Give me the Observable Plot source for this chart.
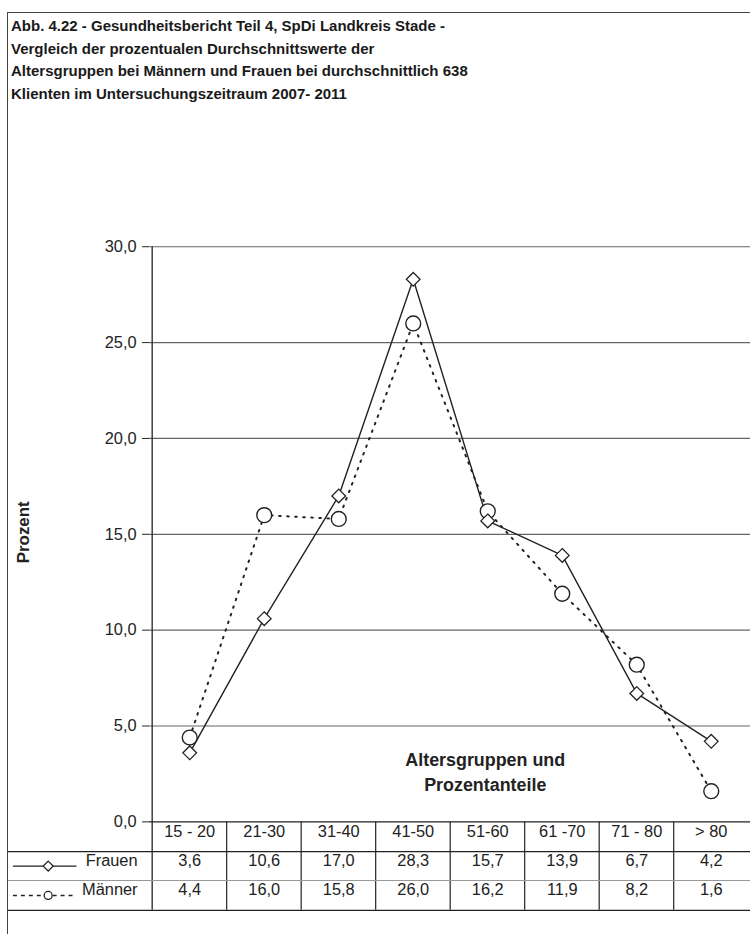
<!DOCTYPE html>
<html>
<head>
<meta charset="utf-8">
<script src="https://cdn.jsdelivr.net/npm/d3@7"></script>
<script src="https://cdn.jsdelivr.net/npm/@observablehq/plot@0.6"></script>
<style>
  html, body { margin: 0; padding: 0; background: #fff; overflow: hidden; }
  #wrap { position: relative; width: 750px; height: 934px; overflow: hidden; }
  #frame { position: absolute; left: 7px; top: 12px; width: 800px; height: 1000px;
           border-left: 1.5px solid #444; border-top: 1.5px solid #444; }
  #title { position: absolute; left: 11px; top: 15px; font-family: "Liberation Sans", Arial, sans-serif;
           font-weight: bold; font-size: 15px; line-height: 22.7px; color: #1a1a1a; }
  #chart { position: absolute; left: 0; top: 130px; }
</style>
</head>
<body>
<div id="wrap">
  <div id="frame"></div>
  <div id="title"></div>
  <div id="chart"></div>
</div>
<script>
const titleLines = [
  "Abb. 4.22 - Gesundheitsbericht Teil 4, SpDi Landkreis Stade -",
  "Vergleich der prozentualen Durchschnittswerte der",
  "Altersgruppen bei Männern und Frauen bei durchschnittlich 638",
  "Klienten im Untersuchungszeitraum 2007- 2011"
];
const categories = ["15 - 20", "21-30", "31-40", "41-50", "51-60", "61 -70", "71 - 80", "> 80"];
const frauen = [3.6, 10.6, 17.0, 28.3, 15.7, 13.9, 6.7, 4.2];
const maenner = [4.4, 16.0, 15.8, 26.0, 16.2, 11.9, 8.2, 1.6];
const yTicks = [0, 5, 10, 15, 20, 25, 30];
const seriesNames = ["Frauen", "Männer"];
const yLabel = "Prozent";
const xLabel = "Altersgruppen und\nProzentanteile";

document.getElementById("title").innerHTML = titleLines.join("<br>");

const rows = categories.map((c, i) => ({cat: c, frauen: frauen[i], maenner: maenner[i]}));
const fmt = v => v.toFixed(1).replace(".", ",");

const W = 755, H = 804, ML = 150, MR = 0, MT = 117, MB = 108;
const frameW = W - ML - MR, frameH = H - MT - MB;
const bw = frameW / categories.length;
const ink = "#222";

const chart = Plot.plot({
  width: W, height: H,
  marginLeft: ML, marginRight: MR, marginTop: MT, marginBottom: MB,
  style: {fontFamily: "'Liberation Sans', Arial, sans-serif", fontSize: "16.5px", color: ink, background: "transparent", overflow: "visible"},
  x: {type: "band", domain: categories, padding: 0, axis: null},
  y: {domain: [0, 30], ticks: yTicks, tickFormat: fmt, tickSize: 7, tickPadding: 6, label: null},
  marks: [
    // grid
    Plot.ruleY(yTicks.filter(d => d > 0), {stroke: "#666", strokeWidth: 1.2}),
    Plot.ruleY([0], {stroke: ink, strokeWidth: 1.3}),
    // y axis line extending through table
    Plot.ruleX([categories[0]], {dx: -bw / 2, stroke: ink, strokeWidth: 1.3, insetBottom: -89}),
    // table vertical lines
    Plot.ruleX(categories.slice(1), {dx: -bw / 2, stroke: ink, strokeWidth: 1.2, insetTop: frameH, insetBottom: -89}),
    // table horizontal lines
    Plot.ruleY([0], {dy: 30, stroke: ink, strokeWidth: 1.2, insetLeft: -142}),
    Plot.ruleY([0], {dy: 59, stroke: "#999", strokeWidth: 1.2, insetLeft: -142}),
    Plot.ruleY([0], {dy: 89, stroke: ink, strokeWidth: 1.3, insetLeft: -142}),
    // table text
    Plot.text(rows, {x: "cat", text: "cat", frameAnchor: "bottom", dy: 15, fill: ink}),
    Plot.text(rows, {x: "cat", text: d => fmt(d.frauen), frameAnchor: "bottom", dy: 44.5, fill: ink}),
    Plot.text(rows, {x: "cat", text: d => fmt(d.maenner), frameAnchor: "bottom", dy: 74, fill: ink}),
    // legend cells
    Plot.ruleY([0], {dy: 44.5, stroke: ink, strokeWidth: 1.3, insetLeft: -137, insetRight: W - MR - 77}),
    Plot.ruleY([0], {dy: 74, stroke: ink, strokeWidth: 1.5, strokeDasharray: "4,4", insetLeft: -137, insetRight: W - MR - 77}),
    Plot.dot([seriesNames[0]], {frameAnchor: "bottom-left", dx: -102, dy: 44.5, symbol: "diamond2", r: 4.5, stroke: ink, strokeWidth: 1.3, fill: "white"}),
    Plot.dot([seriesNames[1]], {frameAnchor: "bottom-left", dx: -102, dy: 74, symbol: "circle", r: 4, stroke: ink, strokeWidth: 1.3, fill: "white"}),
    Plot.text([seriesNames[0]], {text: d => d, frameAnchor: "bottom-left", dx: -12, dy: 44.5, textAnchor: "end", fill: ink}),
    Plot.text([seriesNames[1]], {text: d => d, frameAnchor: "bottom-left", dx: -12, dy: 74, textAnchor: "end", fill: ink}),
    // series lines
    Plot.line(rows, {x: "cat", y: "maenner", stroke: ink, strokeWidth: 2, strokeDasharray: "1.6,6.5"}),
    Plot.line(rows, {x: "cat", y: "frauen", stroke: ink, strokeWidth: 1.4}),
    Plot.dot(rows, {x: "cat", y: "maenner", symbol: "circle", r: 7.5, stroke: ink, strokeWidth: 1.4, fill: "white"}),
    Plot.dot(rows, {x: "cat", y: "frauen", symbol: "diamond2", r: 6.2, stroke: ink, strokeWidth: 1.3, fill: "white"}),
    // axis titles
    Plot.text([yLabel], {text: d => d, frameAnchor: "left", textAnchor: "middle", dx: -127, dy: -2, rotate: -90, fontWeight: "bold", fontSize: 17, fill: ink, style: "letter-spacing: 0.8px"}),
    Plot.text([xLabel], {text: d => d, frameAnchor: "bottom", dx: 35.5, dy: -31, lineAnchor: "bottom", lineHeight: 1.4, fontWeight: "bold", fontSize: 18, fill: ink, style: "letter-spacing: 0.8px"})
  ]
});
document.getElementById("chart").appendChild(chart);
</script>
</body>
</html>
